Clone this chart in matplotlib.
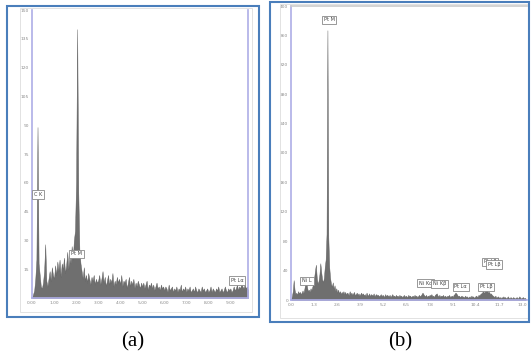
import numpy as np
import matplotlib.pyplot as plt
from matplotlib.patches import Rectangle

# spectrum (a): counts every 0.05 keV from 0.00 to 9.80
counts_a = [
    0, 2, 4, 10, 20, 89, 18, 12, 6, 5, 8, 14, 28, 9, 6, 10, 14, 9, 16, 12,
    10, 17, 12, 19, 14, 20, 11, 18, 15, 21, 13, 17, 24, 15, 22, 18, 27, 20, 30, 35,
    60, 140, 55, 25, 18, 14, 10, 16, 9, 12, 8, 13, 10, 7, 11, 9, 12, 7, 10, 8,
    9, 12, 7, 10, 14, 8, 11, 6, 9, 12, 7, 10, 8, 13, 6, 9, 7, 11, 8, 10,
    7, 12, 6, 9, 8, 10, 5, 8, 11, 6, 9, 7, 10, 5, 8, 6, 9, 7, 5, 8,
    6, 8, 5, 7, 9, 4, 7, 6, 8, 5, 7, 4, 6, 8, 5, 6, 4, 7, 5, 6,
    4, 6, 5, 3, 7, 4, 5, 6, 3, 5, 4, 6, 3, 5, 4, 7, 3, 5, 4, 6,
    3, 5, 4, 6, 3, 4, 5, 3, 6, 4, 3, 5, 4, 3, 6, 4, 5, 3, 4, 5,
    3, 4, 6, 3, 5, 4, 3, 5, 4, 6, 3, 4, 5, 3, 4, 6, 4, 3, 5, 4,
    5, 3, 4, 6, 4, 5, 7, 4, 6, 5, 8, 6, 5, 7, 5, 6, 4,
]
energy_a = np.arange(len(counts_a)) * 0.05

# spectrum (b): counts every 0.05 keV from 0.00 to 13.20
counts_b = [
    0, 5, 12, 27, 14, 8, 10, 7, 12, 9, 11, 8, 10, 13, 9, 15, 22, 28, 18, 12,
    14, 11, 16, 13, 18, 22, 30, 40, 48, 30, 22, 26, 35, 50, 38, 28, 24, 30, 45, 55,
    90, 367, 85, 45, 30, 22, 18, 24, 15, 20, 12, 16, 10, 14, 9, 12, 8, 11, 9, 12,
    8, 11, 7, 10, 9, 6, 12, 8, 10, 7, 9, 11, 6, 8, 10, 7, 9, 6, 8, 10,
    7, 9, 6, 8, 5, 10, 7, 6, 9, 5, 8, 7, 6, 9, 5, 7, 8, 6, 7, 5,
    6, 8, 5, 7, 6, 4, 8, 5, 7, 6, 5, 7, 4, 6, 8, 5, 6, 4, 7, 5,
    6, 4, 7, 5, 6, 4, 5, 7, 4, 6, 5, 4, 7, 5, 6, 4, 5, 6, 4, 7,
    5, 6, 4, 5, 7, 5, 6, 8, 10, 8, 6, 5, 7, 4, 6, 5, 7, 6, 8, 5,
    6, 4, 7, 8, 9, 6, 5, 7, 4, 6, 5, 7, 4, 6, 5, 4, 6, 5, 7, 4,
    5, 6, 4, 7, 8, 10, 9, 7, 5, 6, 4, 5, 6, 4, 5, 3, 6, 4, 5, 3,
    4, 5, 3, 6, 4, 5, 3, 4, 6, 5, 4, 7, 6, 8, 9, 10, 12, 10, 11, 13,
    14, 12, 10, 11, 8, 9, 7, 6, 5, 4, 6, 3, 4, 5, 3, 4, 2, 4, 3, 5,
    3, 4, 2, 3, 5, 3, 2, 4, 3, 2, 4, 3, 2, 3, 4, 2, 3, 5, 3, 2,
    3, 4, 2, 3, 2,
]
energy_b = np.arange(len(counts_b)) * 0.05

# peak labels: text, energy, counts
labels_a = [('C K', 0.27, 54), ('Pt M', 2.02, 23), ('Pt L\u03b1', 9.32, 9)]
labels_b = [('Ni L', 0.9, 26), ('Pt M', 2.14, 381), ('Ni K\u03b1', 7.57, 23),
            ('Ni K\u03b2', 8.38, 22), ('Pt L\u03b1', 9.55, 18), ('Pt L\u03b2', 10.97, 18),
            ('Pt L\u03b2', 11.2, 52), ('Pt L\u03b2', 11.42, 48)]

xticks_a = [0, 1, 2, 3, 4, 5, 6, 7, 8, 9]
yticks_a = [15, 30, 45, 60, 75, 90, 105, 120, 135, 150]
xticks_b = [0.0, 1.3, 2.6, 3.9, 5.2, 6.5, 7.8, 9.1, 10.4, 11.7, 13.0]
yticks_b = [0, 40, 80, 120, 160, 200, 240, 280, 320, 360, 400]

W, H = 531, 362
fig = plt.figure(figsize=(W / 100, H / 100), dpi=100)

spine_col = '#aeaee6'
fill_col = '#6f6f6f'
tick_col = '#8a8a8a'
blue = '#4a7ebb'


def fx(px):
    return px / W


def fy(py):
    return 1 - py / H


def spectrum(rect, energy, counts, xlim, ylim, xticks, yticks, xfmt, labels):
    ax = fig.add_axes(rect)
    ax.fill_between(energy, counts, 0, color=fill_col, linewidth=0.3, edgecolor='#5a5a5a')
    ax.set_xlim(*xlim)
    ax.set_ylim(*ylim)
    ax.set_xticks(xticks)
    ax.set_xticklabels([xfmt % v for v in xticks])
    ax.set_yticks(yticks)
    ax.tick_params(length=0, labelsize=3.2, labelcolor=tick_col, pad=2)
    for s in ax.spines.values():
        s.set_color(spine_col)
        s.set_linewidth(1.2)
    for text, x, y in labels:
        ax.text(x, y, text, fontsize=3.6, color='#444444', ha='center', va='center',
                bbox=dict(boxstyle='square,pad=0.35', fc='white', ec='#888888', lw=0.6))
    return ax


ax_a = spectrum([fx(32), fy(298), fx(248 - 32), (298 - 10) / H],
                energy_a, counts_a, (0, 9.8), (0, 150), xticks_a, yticks_a, '%.2f', labels_a)
ax_a.spines['top'].set_visible(False)

ax_b = spectrum([fx(291), fy(300), fx(527 - 291), (300 - 6) / H],
                energy_b, counts_b, (0, 13.28), (0, 400), xticks_b, yticks_b, '%.1f', labels_b)
ax_b.spines['right'].set_visible(False)
ax_b.spines['top'].set_color('#cccccc')

# faint screenshot borders and blue frames
fig.add_artist(Rectangle((fx(20), fy(312)), fx(252 - 20), (312 - 8) / H,
                         fill=False, ec='#dddddd', lw=0.6))
fig.add_artist(Rectangle((fx(280), fy(318)), fx(528 - 280), (318 - 4) / H,
                         fill=False, ec='#dddddd', lw=0.6))
fig.add_artist(Rectangle((fx(7), fy(317)), fx(259 - 7), (317 - 6) / H,
                         fill=False, ec=blue, lw=1.5))
fig.add_artist(Rectangle((fx(270), fy(322)), fx(529 - 270), (322 - 2) / H,
                         fill=False, ec=blue, lw=1.5))

fig.text(fx(133), fy(342), '(a)', fontsize=15, family='Liberation Serif', ha='center', va='center')
fig.text(fx(400), fy(342), '(b)', fontsize=15, family='Liberation Serif', ha='center', va='center')

fig.savefig('out.png', dpi=100)
